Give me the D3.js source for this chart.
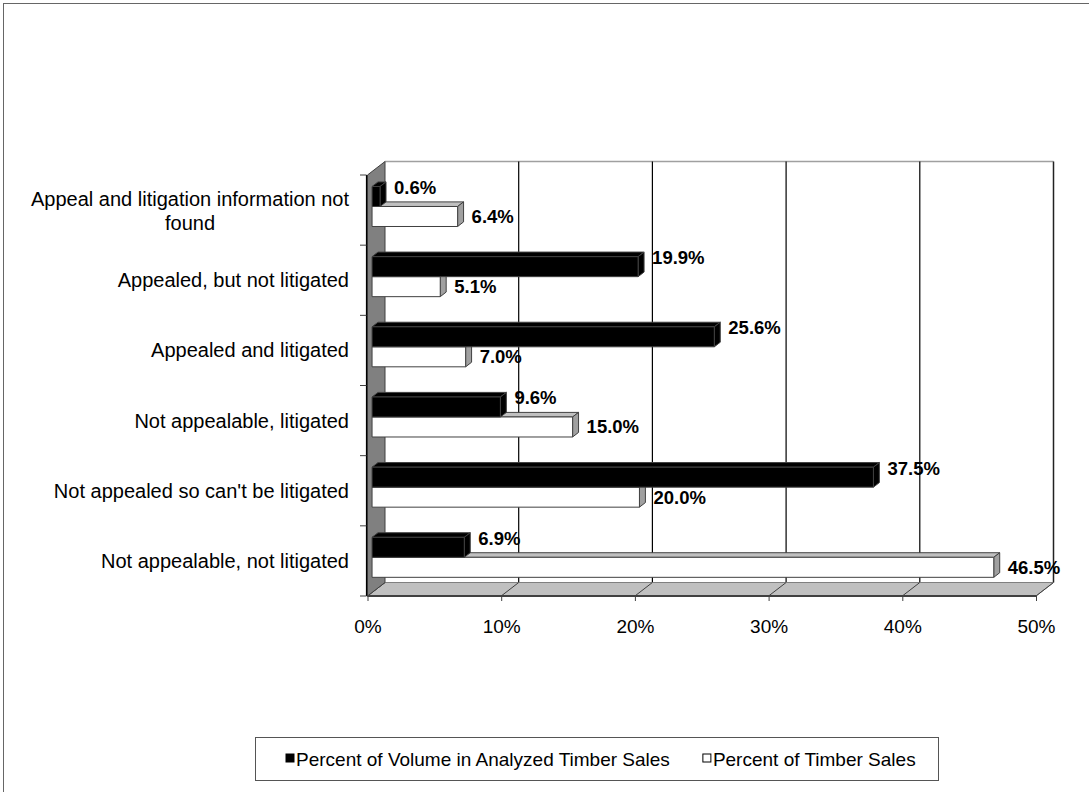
<!DOCTYPE html>
<html><head><meta charset="utf-8">
<script src="https://cdn.jsdelivr.net/npm/d3@7"></script>
<style>
body{margin:0;background:#fff;}
svg{display:block;font-family:"Liberation Sans",Arial,sans-serif;}
</style></head><body>
<svg id="chart" width="1089" height="792"></svg>
<script>
// ---- data ----
const categories = [
  "Appeal and litigation information not found",
  "Appealed, but not litigated",
  "Appealed and litigated",
  "Not appealable, litigated",
  "Not appealed so can't be litigated",
  "Not appealable, not litigated"
];
const seriesNames = ["Percent of Volume in Analyzed Timber Sales", "Percent of Timber Sales"];
const volumePct = [0.6, 19.9, 25.6, 9.6, 37.5, 6.9];
const salesPct  = [6.4, 5.1, 7.0, 15.0, 20.0, 46.5];
const xTicks = [0, 10, 20, 30, 40, 50];
const seriesColors = ["#000000", "#ffffff"];

// ---- geometry ----
const svg = d3.select("#chart");
const DX = 17.5, DY = -13.5;           // full depth vector of the 3D box
const x = d3.scaleLinear().domain([0, 50]).range([367.5, 1036]);
const y = d3.scaleBand().domain(categories).range([175, 596]);
const s = d3.scaleBand().domain(seriesNames).range([15, 55]);
const P = (v, yy, f) => [x(v) + f * DX, yy + f * DY];
const poly = pts => "M" + pts.map(p => p.join(",")).join("L") + "Z";
const yTop = y.range()[0], yBot = y.range()[1];

// outer chart border (only top/left visible)
svg.append("rect").attr("x", 3.5).attr("y", 3.5).attr("width", 1100).attr("height", 800)
  .attr("fill", "none").attr("stroke", "#666");

// back wall
svg.append("path").attr("d", poly([P(0, yTop, 1), P(50, yTop, 1), P(50, yBot, 1), P(0, yBot, 1)]))
  .attr("fill", "#fff");
svg.append("line").attr("x1", P(0, yTop, 1)[0]).attr("y1", P(0, yTop, 1)[1])
  .attr("x2", P(50, yTop, 1)[0]).attr("y2", P(50, yTop, 1)[1]).attr("stroke", "#a0a0a0").attr("stroke-width", 1.5);
svg.append("line").attr("x1", P(50, yTop, 1)[0]).attr("y1", P(50, yTop, 1)[1])
  .attr("x2", P(50, yBot, 1)[0]).attr("y2", P(50, yBot, 1)[1]).attr("stroke", "#222").attr("stroke-width", 1.5);

// gridlines on back wall
svg.append("g").selectAll("line").data(xTicks.filter(t => t > 0 && t < 50)).join("line")
  .attr("x1", d => P(d, yTop, 1)[0]).attr("y1", d => P(d, yTop, 1)[1])
  .attr("x2", d => P(d, yBot, 1)[0]).attr("y2", d => P(d, yBot, 1)[1])
  .attr("stroke", "#000").attr("stroke-width", 1.2);

// floor
svg.append("path").attr("d", poly([P(0, yBot, 0), P(50, yBot, 0), P(50, yBot, 1), P(0, yBot, 1)]))
  .attr("fill", "#c0c0c0").attr("stroke", "#808080");
svg.append("g").selectAll("line").data(xTicks).join("line")
  .attr("x1", d => P(d, yBot, 0)[0]).attr("y1", d => P(d, yBot, 0)[1])
  .attr("x2", d => P(d, yBot, 1)[0]).attr("y2", d => P(d, yBot, 1)[1])
  .attr("stroke", "#404040");
svg.append("line").attr("x1", P(0, yBot, 0)[0]).attr("y1", yBot).attr("x2", P(50, yBot, 0)[0]).attr("y2", yBot)
  .attr("stroke", "#404040").attr("stroke-width", 2);

// left wall
svg.append("path").attr("d", poly([P(0, yTop, 0), P(0, yTop, 1), P(0, yBot, 1), P(0, yBot, 0)]))
  .attr("fill", "#808080").attr("stroke", "#404040");

// x axis (front edge of floor)
const xAxis = d3.axisBottom(x).tickValues(xTicks).tickFormat(d => d + "%").tickSize(5).tickPadding(19);
const gx = svg.append("g").attr("transform", `translate(0,${yBot})`).call(xAxis);
gx.select(".domain").remove();
gx.selectAll(".tick line").attr("stroke", "#404040");
gx.selectAll(".tick text").attr("font-size", 19).attr("fill", "#000")
  .attr("font-family", "'Liberation Sans',Arial,sans-serif");

// y axis line + ticks at category boundaries
svg.append("line").attr("x1", 366.5).attr("x2", 366.5).attr("y1", yTop).attr("y2", yBot)
  .attr("stroke", "#000").attr("stroke-width", 1.2);
const bounds = categories.map(c => y(c)).concat([yBot]);
svg.append("g").selectAll("line").data(bounds).join("line")
  .attr("x1", 360).attr("x2", 366.5).attr("y1", d => d).attr("y2", d => d)
  .attr("stroke", "#404040");

// category labels (wrapped)
const catG = svg.append("g").attr("font-size", 20).attr("fill", "#000");
categories.forEach(c => {
  const t = catG.append("text").attr("text-anchor", "middle");
  const words = c.split(" ");
  const lines = [];
  let cur = [];
  const probe = catG.append("text").attr("visibility", "hidden");
  words.forEach(w => {
    probe.text(cur.concat([w]).join(" "));
    if (probe.node().getComputedTextLength() > 330 && cur.length) { lines.push(cur.join(" ")); cur = [w]; }
    else cur.push(w);
  });
  lines.push(cur.join(" "));
  const widths = lines.map(l => { probe.text(l); return probe.node().getComputedTextLength(); });
  probe.remove();
  const cy = y(c) + y.bandwidth() / 2 + (lines.length > 1 ? 1 : 0);
  const lh = 23.5;
  const maxW = d3.max(widths);
  const cx = 349 - maxW / 2;
  lines.forEach((l, i) => {
    t.append("tspan").attr("x", cx).attr("y", cy + (i - (lines.length - 1) / 2) * lh)
      .attr("dy", "0.35em").text(l);
  });
});

// bars
const F0 = 0.26, F1 = 0.60;
const seriesData = [volumePct, salesPct];
const barG = svg.append("g");
categories.forEach((c, i) => {
  [1, 0].forEach(j => {
    const v = seriesData[j][i];
    const yt = y(c) + s(seriesNames[j]);
    const yb = yt + s.bandwidth();
    const g = barG.append("g");
    const isBlack = j === 0;
    g.append("path").attr("d", poly([P(0, yt, F0), P(v, yt, F0), P(v, yt, F1), P(0, yt, F1)]))
      .attr("fill", isBlack ? "#000" : "#c0c0c0").attr("stroke", "#404040").attr("stroke-width", 1);
    g.append("path").attr("d", poly([P(v, yt, F0), P(v, yt, F1), P(v, yb, F1), P(v, yb, F0)]))
      .attr("fill", isBlack ? "#000" : "#a0a0a0").attr("stroke", "#404040").attr("stroke-width", 1);
    g.append("path").attr("d", poly([P(0, yt, F0), P(v, yt, F0), P(v, yb, F0), P(0, yb, F0)]))
      .attr("fill", seriesColors[j]).attr("stroke", "#404040").attr("stroke-width", 1);
  });
});

// data labels
const labG = svg.append("g").attr("font-size", 18.5).attr("font-weight", "bold").attr("fill", "#000");
categories.forEach((c, i) => {
  [0, 1].forEach(j => {
    const v = seriesData[j][i];
    const yt = y(c) + s(seriesNames[j]);
    const front = P(v, yt, F0);
    const ly = j === 0 ? front[1] + 1 : front[1] + s.bandwidth() / 2;
    labG.append("text").attr("x", front[0] + 14).attr("y", ly).attr("dy", "0.35em")
      .text(v.toFixed(1) + "%");
  });
});

// legend
const leg = svg.append("g");
leg.append("rect").attr("x", 255.5).attr("y", 737.5).attr("width", 683).attr("height", 43)
  .attr("fill", "#fff").attr("stroke", "#555");
let lx = 286;
seriesNames.forEach((name, j) => {
  leg.append("rect").attr("x", lx).attr("y", 754).attr("width", 8).attr("height", 8)
    .attr("fill", seriesColors[j]).attr("stroke", "#000").attr("stroke-width", 1);
  const t = leg.append("text").attr("x", lx + 10).attr("y", 759).attr("dy", "0.35em")
    .attr("font-size", 19).text(name);
  lx = lx + 10 + t.node().getComputedTextLength() + 33;
});
</script>
</body></html>
